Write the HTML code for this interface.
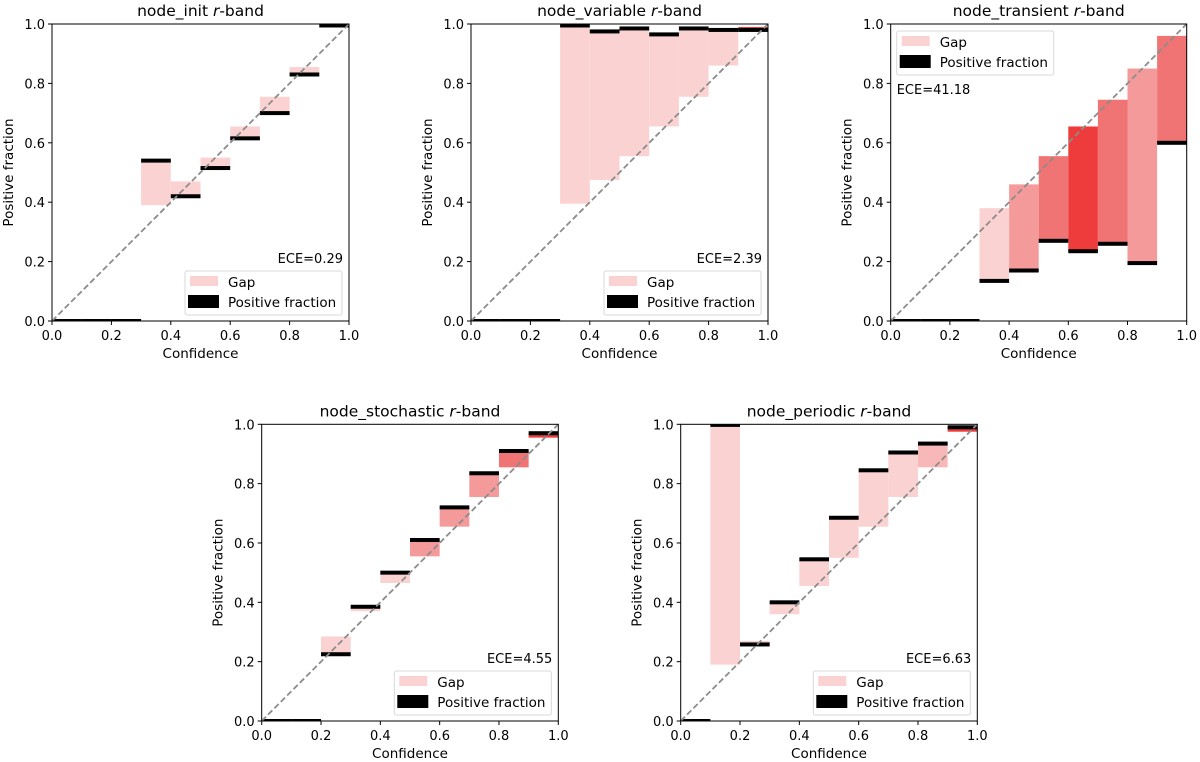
<!DOCTYPE html>
<html><head><meta charset="utf-8"><style>
html,body{margin:0;padding:0;background:#fff;}
svg{display:block;font-family:"DejaVu Sans","Liberation Sans",sans-serif;}
</style></head><body>
<svg id="fig" width="1200" height="762" viewBox="0 0 1200 762" xmlns="http://www.w3.org/2000/svg"></svg>
<script>
const binEdges = [0,0.1,0.2,0.3,0.4,0.5,0.6,0.7,0.8,0.9];
const ticks = [0,0.2,0.4,0.6,0.8,1.0];
const tickLabels = ["0.0","0.2","0.4","0.6","0.8","1.0"];
const initPos = [0,0,0,0.54,0.42,0.515,0.615,0.70,0.83,0.995];
const initConf = [null,null,null,0.39,0.47,0.55,0.655,0.755,0.855,0.99];
const initCol = [0,0,0,1,1,1,1,1,1,4];
const variablePos = [0,0,0,0.995,0.975,0.985,0.965,0.985,0.98,0.98];
const variableConf = [null,null,null,0.395,0.475,0.555,0.655,0.755,0.86,0.99];
const variableCol = [0,0,0,1,1,1,1,1,1,5];
const transientPos = [0,0,0,0.135,0.17,0.27,0.235,0.26,0.195,0.60];
const transientConf = [null,null,null,0.38,0.46,0.555,0.655,0.745,0.85,0.96];
const transientCol = [0,0,0,1,2,3,5,3,2,3];
const stochasticPos = [0,0,0.225,0.385,0.50,0.61,0.72,0.835,0.91,0.97];
const stochasticConf = [null,null,0.285,0.37,0.465,0.555,0.655,0.755,0.855,0.955];
const stochasticCol = [0,0,1,1,1,2,2,2,3,5];
const periodicPos = [0,0.998,0.258,0.40,0.545,0.685,0.845,0.905,0.935,0.99];
const periodicConf = [null,0.19,0.27,0.36,0.455,0.55,0.655,0.755,0.855,0.975];
const periodicCol = [0,1,1,1,1,1,1,1,1.5,5];
const eceLabels = ["ECE=0.29","ECE=2.39","ECE=41.18","ECE=4.55","ECE=6.63"];
const titles = ["node_init","node_variable","node_transient","node_stochastic","node_periodic"];

const palette = {1:"#fbd2d2",1.5:"#f8b8b8",2:"#f59a9a",3:"#f17474",4:"#f5a0a0",5:"#ee3b3b"};
const panels = [
 {x0:52,x1:349,y0:321,y1:24,pos:initPos,conf:initConf,col:initCol,legend:"br"},
 {x0:471,x1:768,y0:321,y1:24,pos:variablePos,conf:variableConf,col:variableCol,legend:"br"},
 {x0:890.7,x1:1186.7,y0:321,y1:24,pos:transientPos,conf:transientConf,col:transientCol,legend:"tl"},
 {x0:261.7,x1:558.3,y0:721,y1:424.3,pos:stochasticPos,conf:stochasticConf,col:stochasticCol,legend:"br"},
 {x0:680.7,x1:977.3,y0:721,y1:424.3,pos:periodicPos,conf:periodicConf,col:periodicCol,legend:"br"}
];
const NS="http://www.w3.org/2000/svg";
const svg=document.getElementById('fig');
function mk(tag,attrs,parent,text){const e=document.createElementNS(NS,tag);for(const k in attrs)e.setAttribute(k,attrs[k]);if(text!==undefined)e.textContent=text;(parent||svg).appendChild(e);return e;}

panels.forEach((p,i)=>{
 const g=mk('g',{});
 
 
 const sx=v=>p.x0+v*(p.x1-p.x0);
 const sy=v=>p.y0+v*(p.y1-p.y0);
 binEdges.forEach((b,j)=>{
  if(p.conf[j]===null)return;
  const top=Math.max(p.pos[j],p.conf[j]),bot=Math.min(p.pos[j],p.conf[j]);
  const r=mk('rect',{x:sx(b),y:sy(top),width:sx(b+0.1)-sx(b),height:sy(bot)-sy(top),fill:palette[p.col[j]]},g);
  
  
 });
 binEdges.forEach((b,j)=>{
  let y=sy(p.pos[j])-2,h=4;
  if(y+h>p.y0)h=Math.max(1.5,p.y0-y);
  if(y<p.y1){h-= (p.y1-y); y=p.y1;}
  const r=mk('rect',{x:sx(b),y:y,width:sx(b+0.1)-sx(b),height:h,fill:"#000"},g);
  
  
 });
 const d=mk('line',{x1:sx(0),y1:sy(0),x2:sx(1),y2:sy(1),stroke:"#8c8c8c","stroke-width":1.8,"stroke-dasharray":"6,3"},g);
 
 
 const fr=mk('rect',{x:p.x0,y:p.y1,width:p.x1-p.x0,height:p.y0-p.y1,fill:"none",stroke:"#000","stroke-width":1},g);
 
 
 ticks.forEach((t,k)=>{
  mk('line',{x1:sx(t),y1:p.y0,x2:sx(t),y2:p.y0+4,stroke:"#000"},g);
  const tx=mk('text',{x:sx(t),y:p.y0+19,"font-size":13,"text-anchor":"middle"},g,tickLabels[k]);
  
  
  mk('line',{x1:p.x0-4,y1:sy(t),x2:p.x0,y2:sy(t),stroke:"#000"},g);
  const ty=mk('text',{x:p.x0-7,y:sy(t)+5,"font-size":13,"text-anchor":"end"},g,tickLabels[k]);
  
  
 });
 const cx=(p.x0+p.x1)/2;
 const xt=mk('text',{x:cx,y:p.y0+37,"font-size":13.5,"text-anchor":"middle"},g,"Confidence");
 
 
 const yt=mk('text',{x:0,y:0,"font-size":13.5,"text-anchor":"middle",transform:`translate(${p.x0-39},${(p.y0+p.y1)/2}) rotate(-90)`},g,"Positive fraction");
 
 
 const tt=mk('text',{x:cx,y:p.y1-8,"font-size":15.5,"text-anchor":"middle"},g);
 
 
 mk('tspan',{},tt,titles[i]+" ");
 mk('tspan',{"font-style":"italic"},tt,"r");
 mk('tspan',{},tt,"-band");
 let lx,ly,ex,ey,anchor;
 if(p.legend==="br"){lx=p.x1-164;ly=p.y0-50;ex=p.x1-6;ey=p.y0-58;anchor="end";}
 else{lx=p.x0+6;ly=p.y1+7;ex=p.x0+6;ey=p.y1+70;anchor="start";}
 const lg=mk('g',{},g);
 
 
 mk('rect',{x:lx,y:ly,width:157,height:44,fill:"#fff","fill-opacity":0.8,stroke:"#d9d9d9",rx:2},lg);
 mk('rect',{x:lx+5,y:ly+5,width:28,height:10,fill:"#fbd2d2"},lg);
 mk('text',{x:lx+43,y:ly+16,"font-size":13.5},lg,"Gap");
 mk('rect',{x:lx+3,y:ly+24,width:31,height:13,fill:"#000"},lg);
 mk('text',{x:lx+43,y:ly+36,"font-size":13.5},lg,"Positive fraction");
 const et=mk('text',{x:ex,y:ey,"font-size":13,"text-anchor":anchor},g,eceLabels[i]);
 
 
});
</script>
</body></html>
